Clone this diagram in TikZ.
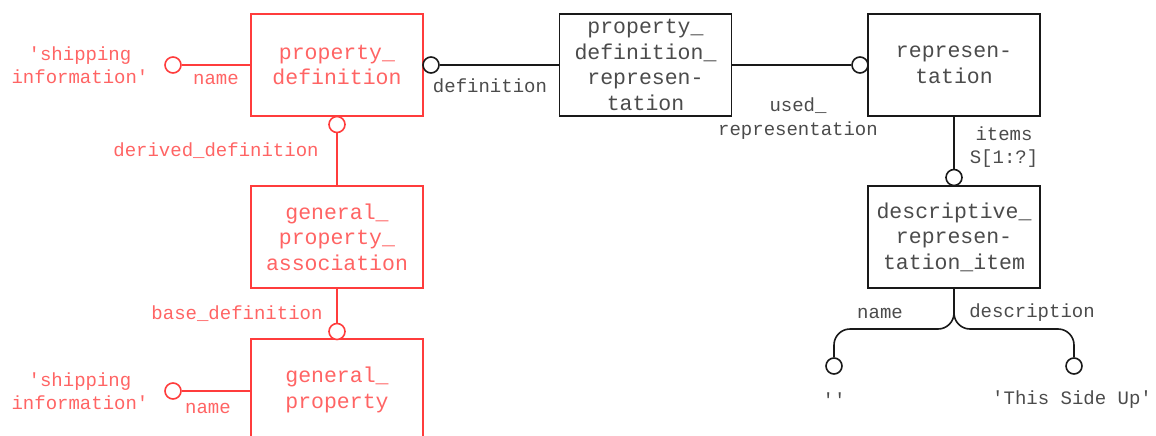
\documentclass[tikz,border=0pt]{standalone}
\usepackage{fontspec}
\newfontfamily\cour{Liberation Mono}
\newcommand{\q}{\textquotesingle}
\definecolor{redl}{RGB}{255,60,60}
\definecolor{redt}{RGB}{255,100,100}
\definecolor{blkl}{RGB}{25,25,25}
\definecolor{blkt}{RGB}{75,75,75}
\begin{document}
\begin{tikzpicture}[x=1pt,y=-1pt,
  ent/.style={draw, line width=1.6pt, minimum width=172pt, minimum height=102pt, align=center,
    font=\cour\fontsize{21.5}{25.5}\selectfont, inner sep=0pt},
  redent/.style={ent, draw=redl, text=redt},
  blkent/.style={ent, draw=blkl, text=blkt},
  lbl/.style={font=\cour\fontsize{19}{23.5}\selectfont, align=center, inner sep=0pt},
  redlbl/.style={lbl, text=redt},
  blklbl/.style={lbl, text=blkt},
  ring/.style={circle, draw, fill=white, minimum size=16pt, inner sep=0pt, line width=1.6pt},
  redln/.style={draw=redl, line width=1.6pt},
  blkln/.style={draw=blkl, line width=1.6pt}]
\useasboundingbox (0,0) rectangle (1156,436);
% entities
\node[redent] (pd) at (337,65) {property\_\\definition};
\node[redent] (gpa) at (337,237) {general\_\\property\_\\association};
\node[redent] (gp) at (337,390) {general\_\\property};
\node[blkent] (pdr) at (645.5,65) {property\_\\definition\_\\represen-\\tation};
\node[blkent] (rep) at (954,65) {represen-\\tation};
\node[blkent] (dri) at (954,237) {descriptive\_\\represen-\\tation\_item};
% rings
\node[ring, draw=redl] (cn1) at (173,65) {};
\node[ring, draw=redl] (cdd) at (337,124.5) {};
\node[ring, draw=redl] (cbd) at (337,331.5) {};
\node[ring, draw=redl] (cn2) at (173,391) {};
\node[ring, draw=blkl] (cdef) at (431,65) {};
\node[ring, draw=blkl] (cur) at (860,65) {};
\node[ring, draw=blkl] (cit) at (954,177.5) {};
\node[ring, draw=blkl] (cnm) at (834,366) {};
\node[ring, draw=blkl] (cds) at (1074,366) {};
% connectors
\draw[redln] (cn1.east) -- (pd.west |- cn1);
\draw[redln] (cdd.south) -- (gpa.north);
\draw[redln] (gpa.south) -- (cbd.north);
\draw[redln] (cn2.east) -- (gp.west |- cn2);
\draw[blkln] (cdef.east) -- (pdr.west |- cdef);
\draw[blkln] (pdr.east) -- (cur.west);
\draw[blkln] (rep.south) -- (cit.north);
\coordinate (fork) at (954,329);
\draw[blkln, rounded corners=16pt] (dri.south) -- (fork) -- (cnm |- fork) -- (cnm.north);
\draw[blkln, rounded corners=16pt] (dri.south) -- (fork) -- (cds |- fork) -- (cds.north);
% labels
\node[redlbl] (s1) at (80,65) {\q shipping\\information\q};
\node[redlbl] (n1) at (216,79) {name};
\node[redlbl] (ddl) at (216,151) {derived\_definition};
\node[redlbl] (bdl) at (237,314) {base\_definition};
\node[redlbl] (s2) at (80,391) {\q shipping\\information\q};
\node[redlbl] (n2) at (208,408) {name};
\node[blklbl] (defl) at (490,86) {definition};
\node[blklbl] (url) at (798,118.5) {used\_\\representation};
\node[blklbl] (itl) at (1004,147) {items\\S[1:?]};
\node[blklbl] (nml) at (880,313) {name};
\node[blklbl] (dsl) at (1032,313) {description};
\node[blklbl] (e1) at (834,400) {\q\q};
\node[blklbl] (e2) at (1072,400) {\q This Side Up\q};
\end{tikzpicture}
\end{document}
